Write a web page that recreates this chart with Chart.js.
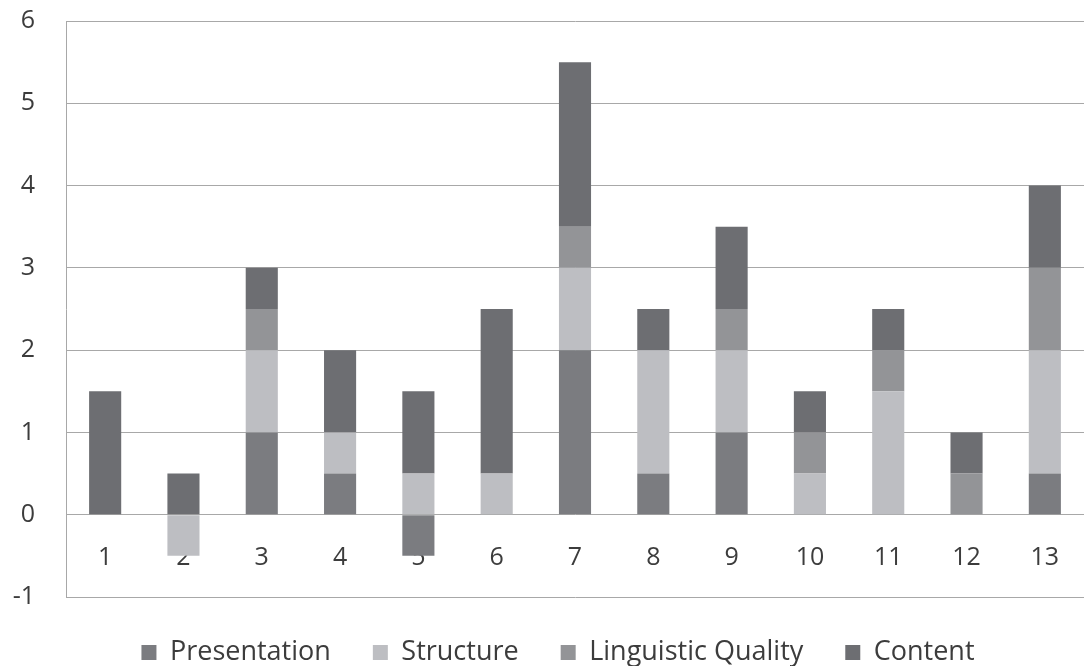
<!DOCTYPE html>
<html>
<head>
<meta charset="utf-8">
<script src="https://cdn.jsdelivr.net/npm/chart.js@4.4.1/dist/chart.umd.min.js"></script>
<style>
  html, body { margin: 0; padding: 0; background: #ffffff; overflow: hidden; }
  #wrap { width: 1084px; height: 666px; position: relative; }
</style>
</head>
<body>
<div id="wrap"><canvas id="chart"></canvas></div>
<script>
// =====================
// DATA
// =====================
const categories = ['1', '2', '3', '4', '5', '6', '7', '8', '9', '10', '11', '12', '13'];
const presentation = [0, 0, 1, 0.5, -0.5, 0, 2, 0.5, 1, 0, 0, 0, 0.5];
const structure    = [0, -0.5, 1, 0.5, 0.5, 0.5, 1, 1.5, 1, 0.5, 1.5, 0, 1.5];
const linguistic   = [0, 0, 0.5, 0, 0, 0, 0.5, 0, 0.5, 0.5, 0.5, 0.5, 1];
const content      = [1.5, 0.5, 0.5, 1, 1, 2, 2, 0.5, 1, 0.5, 0.5, 0.5, 1];
const yTicks = [-1, 0, 1, 2, 3, 4, 5, 6];

const FONT = "'Open Sans', 'Liberation Sans', sans-serif";
const TEXT = '#3c3c3c';
const GRID = '#a8a8a8';

function series(label, data, color) {
    return {
        label: label, data: data, backgroundColor: color,
        borderWidth: 0, barPercentage: 0.41, categoryPercentage: 1
    };
}

// nudge the legend a bit right, like the original
const legendShift = {
    id: 'legendShift',
    afterLayout(chart) {
        const lg = chart.legend;
        if (!lg) return;
        lg.left += 16;
        lg.right += 16;
    }
};

new Chart(document.getElementById('chart'), {
    type: 'bar',
    data: {
        labels: categories,
        datasets: [
            series('Presentation', presentation, '#7b7c80'),
            series('Structure', structure, '#bdbec2'),
            series('Linguistic Quality', linguistic, '#939497'),
            series('Content', content, '#6d6e72')
        ]
    },
    plugins: [legendShift],
    options: {
        responsive: true, maintainAspectRatio: false, animation: false,
        layout: { padding: { top: 0, right: 0, bottom: -10, left: 0 } },
        plugins: {
            tooltip: { enabled: false },
            legend: {
                position: 'bottom',
                labels: {
                    color: TEXT, boxWidth: 15, boxHeight: 15, padding: 42,
                    font: { family: FONT, size: 27 }
                }
            }
        },
        scales: {
            x: {
                stacked: true,
                position: { y: 0 },
                z: 1,
                afterFit: s => { s.height = 0; },
                grid: { display: false },
                border: { display: false },
                ticks: { color: TEXT, padding: 20, font: { family: FONT, size: 25 } }
            },
            y: {
                stacked: true,
                min: -1, max: 6,
                afterBuildTicks: s => { s.ticks = yTicks.map(v => ({ value: v })); },
                // fixed axis width; tick padding would otherwise push the plot top down
                afterFit: s => { s.width = 66; s.paddingTop = 21; s.paddingBottom = 0; },
                grid: { color: GRID, drawTicks: false },
                border: { display: true, color: GRID },
                ticks: { color: TEXT, padding: 31, font: { family: FONT, size: 25 } }
            }
        }
    }
});
</script>
</body>
</html>
